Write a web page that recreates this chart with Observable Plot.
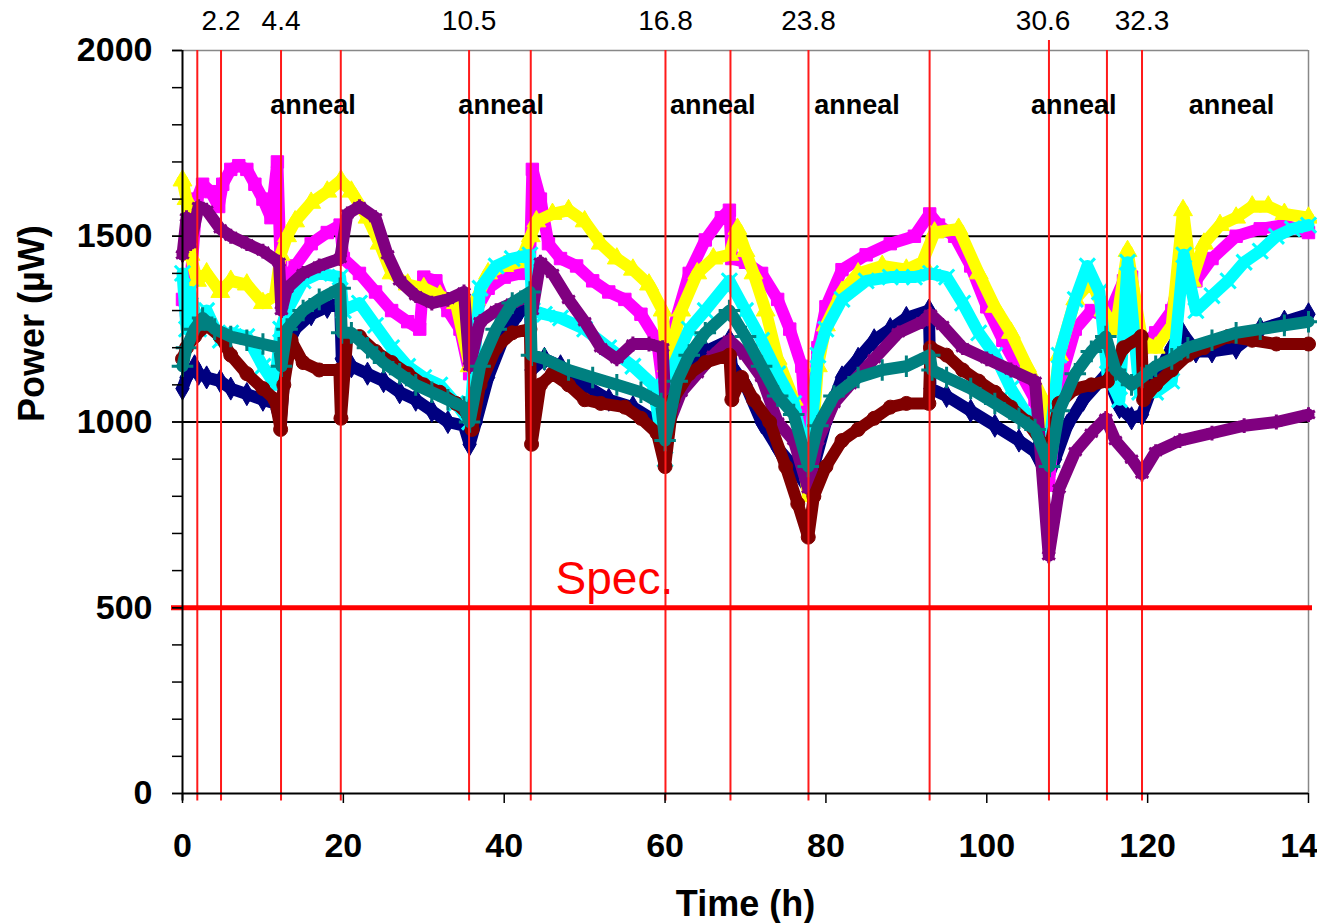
<!DOCTYPE html>
<html><head><meta charset="utf-8">
<script src="https://cdn.jsdelivr.net/npm/d3@7"></script>
<script src="https://cdn.jsdelivr.net/npm/@observablehq/plot@0.6"></script>
<style>
html,body{margin:0;padding:0;background:#fff;}
body{width:1317px;height:923px;overflow:hidden;}
</style>
</head><body><div id="chart"></div>
<script>
// ---- data (hours, power in µW) ----
const navy = [[0,1090],[0.5,1120],[1.5,1150],[2,1130],[3,1120],[4.7,1110],[6,1090],[8,1075],[10,1060],[11.5,1050],[12.2,1000],[13,1200],[14,1250],[16,1290],[18,1310],[19.6,1320],[19.8,1170],[21,1150],[23,1130],[25,1110],[27,1080],[29,1060],[31,1030],[33,1000],[35,990],[35.7,940],[36.5,1000],[38,1120],[40,1230],[42,1300],[43.2,1320],[43.4,1140],[45,1170],[47,1150],[50,1100],[53,1060],[56,1040],[59,1000],[60,920],[61,1060],[63,1150],[65,1190],[68,1220],[68.3,1150],[70,1100],[72,1000],[74,930],[76,880],[77.8,820],[78.5,880],[80,1000],[82,1120],[84,1170],[86,1220],[88,1250],[90,1280],[92.8,1300],[93,1090],[95,1070],[98,1030],[101,990],[104,950],[106,920],[107.6,850],[108.5,900],[110,990],[112,1060],[114.9,1130],[116.5,1040],[118,1010],[119.3,1020],[121,1120],[123,1200],[124.3,1240],[126,1190],[128,1190],[131,1200],[134,1250],[137,1270],[140,1290]];
const magenta = [[0,1330],[0.5,1300],[1,1380],[1.8,1600],[2.5,1640],[3.5,1620],[4.5,1580],[5,1640],[6,1680],[7,1690],[8,1680],[9,1640],[10,1600],[11,1550],[11.8,1700],[12.2,1420],[13,1380],[14,1420],[16,1480],[18,1510],[19.6,1530],[20,1440],[22,1400],[24,1350],[26,1300],[28,1270],[29.5,1250],[30,1390],[31.5,1380],[33,1300],[34.5,1250],[35.7,1130],[36.5,1300],[38,1360],[40,1390],[42,1400],[43.2,1420],[43.5,1680],[44.5,1600],[45.5,1480],[47,1440],[49,1420],[51,1380],[53,1350],[55,1330],[57,1290],[59,1220],[60,1050],[61,1250],[63,1400],[65,1490],[67,1550],[68,1570],[68.3,1440],[70,1430],[72,1400],[74,1330],[75.5,1250],[77,1150],[77.8,900],[79,1200],[80,1310],[82,1410],[85,1450],[88,1480],[91,1500],[92.9,1560],[94,1530],[96,1500],[98,1420],[100,1310],[102,1220],[104,1140],[106,1060],[107.7,830],[109,1100],[111,1250],[113,1300],[115,1280],[117,1380],[118,1390],[119.3,1200],[121,1240],[123,1300],[124.3,1420],[126,1380],[128,1440],[131,1500],[134,1520],[137,1530],[140,1510]];
const yellow = [[0,1650],[0.5,1600],[1,1450],[1.8,1380],[3,1400],[4.7,1350],[6,1380],[8,1370],[10,1320],[11.5,1340],[12.2,1450],[13,1500],[14,1540],[16,1590],[18,1620],[19.7,1650],[21,1620],[23,1550],[24.5,1480],[26,1400],[28,1370],[30,1360],[32,1340],[34,1320],[35.7,1150],[36.5,1330],[38,1400],[40,1420],[42,1430],[43.3,1500],[44,1540],[46,1560],[48,1570],[50,1540],[52,1480],[54,1440],[56,1410],[58,1370],[59.7,1300],[60.2,1150],[62,1300],[64,1400],[66,1440],[68,1450],[69,1520],[70,1460],[71,1400],[72.5,1300],[74,1170],[76,1060],[77.8,800],[79,1150],[80,1260],[82,1350],[84,1400],[87,1420],[90,1410],[92,1430],[93.5,1510],[96.5,1520],[99,1400],[101,1310],[103,1240],[105,1150],[107,1060],[107.8,960],[109,1180],[111,1330],[113,1380],[114.5,1300],[116,1250],[117.5,1460],[119.3,1220],[121,1200],[123,1260],[124.4,1570],[125.5,1380],[127,1480],[129,1530],[131,1550],[133,1580],[135,1580],[137,1560],[140,1550]];
const cyan = [[0,1400],[0.5,1250],[1,1350],[2,1250],[3,1300],[4.7,1220],[6,1240],[8,1230],[10,1150],[11.5,1100],[12.2,1250],[13,1300],[15,1380],[17,1400],[19.6,1390],[20,1300],[22,1320],[24,1260],[26,1200],[28,1150],[30,1120],[32,1100],[34,1050],[35.7,1000],[37,1360],[39,1420],[41,1440],[43.2,1450],[43.5,1300],[45,1290],[47,1280],[50,1250],[53,1200],[56,1150],[58.5,1100],[60,900],[61,1150],[63,1250],[65,1300],[68,1380],[70,1300],[72,1220],[74,1130],[76,1050],[77.8,880],[79,1180],[80,1250],[82,1330],[85,1380],[88,1390],[91,1390],[93,1400],[95,1390],[97,1320],[99,1240],[101,1180],[103,1090],[105,1020],[107.7,920],[109,1180],[111,1330],[112.5,1420],[114,1350],[115,1130],[116.5,1060],[117.5,1430],[119,1080],[121,1080],[123,1110],[124.5,1450],[126,1300],[128,1340],[130,1380],[132,1430],[134,1460],[136,1500],[138,1520],[140,1530]];
const purple = [[0,1450],[0.5,1550],[1,1480],[2,1580],[3,1570],[4.7,1520],[6,1500],[8,1480],[10,1460],[12,1430],[12.3,1300],[13,1360],[15,1400],[17,1420],[19.6,1440],[20.5,1560],[22,1580],[24,1550],[25.5,1450],[27,1380],[29,1340],[31,1320],[33,1330],[35,1350],[35.7,1150],[37,1270],[39,1300],[41,1320],[43.2,1340],[43.5,1300],[44.5,1430],[46,1400],[48,1330],[50,1270],[52,1200],[54,1170],[56,1210],[58,1210],[59.7,1200],[60.2,980],[62,1080],[64,1130],[66,1180],[68,1220],[70,1180],[72,1120],[74,1000],[76,950],[77.8,820],[79,950],[81,1050],[83,1100],[86,1170],[89,1240],[92,1270],[93,1290],[94.5,1260],[97,1200],[100,1170],[103,1140],[106,1110],[107.7,640],[109,820],[111,920],[113,970],[114.8,1010],[116,950],[118,900],[119.3,860],[121,920],[124,950],[128,970],[132,990],[136,1000],[140,1020]];
const darkred = [[0,1170],[0.5,1200],[1.5,1230],[3,1260],[4.7,1230],[6,1180],[8,1130],[10,1090],[11.5,1060],[12.2,980],[12.6,1100],[13.5,1220],[15,1160],[17,1140],[19.5,1140],[19.7,1010],[20.5,1230],[22,1230],[24,1190],[26,1160],[28,1130],[30,1100],[32,1080],[34,1050],[35.5,1020],[36,980],[37,1100],[39,1200],[41,1240],[43.2,1250],[43.4,940],[44.5,1100],[46,1130],[48,1100],[50,1060],[52,1050],[55,1040],[57,1010],[59,970],[60,880],[61,1060],[63,1130],[65,1160],[68,1180],[68.3,1060],[69.5,1120],[71,1060],[73,1000],[75,880],[76.5,780],[77.8,690],[78.5,800],[80,880],[82,950],[84,980],[86,1010],[88,1040],[90,1050],[92.8,1050],[93,1200],[95,1180],[97,1140],[99,1110],[101,1080],[103,1040],[105,1000],[107.7,920],[109,1050],[111,1090],[113,1100],[115,1110],[117,1200],[119.2,1230],[119.5,1060],[121,1100],[123,1140],[125,1180],[127,1200],[130,1230],[133,1220],[136,1210],[140,1210]];
const teal = [[0,1150],[0.5,1200],[1.5,1250],[2.5,1280],[4,1250],[6,1230],[8,1220],[10,1210],[12,1200],[12.3,1150],[13,1250],[15,1300],[17,1330],[19.6,1360],[19.8,1240],[21,1240],[23,1200],[25,1160],[27,1130],[29,1100],[31,1080],[33,1060],[35,1040],[35.7,1000],[37,1150],[39,1250],[41,1320],[43.2,1350],[43.4,1180],[45,1170],[48,1140],[51,1120],[54,1100],[57,1080],[59.5,1050],[60,950],[61.5,1110],[63,1180],[65,1240],[68,1300],[70,1230],[72,1150],[74,1070],[76,1020],[77.8,880],[79,990],[81,1070],[84,1120],[87,1140],[90,1150],[92.9,1180],[93.2,1140],[95,1120],[98,1090],[101,1050],[104,1010],[106,980],[107.8,880],[109,1030],[111,1130],[113,1190],[114.8,1230],[116,1140],[118,1100],[119.3,1120],[121,1150],[123,1170],[125,1200],[128,1220],[131,1240],[134,1250],[137,1260],[140,1270]];

const eventHours = [1.84, 4.79, 12.25, 19.68, 35.63, 43.3, 60.05, 68.13, 77.83, 92.89, 107.73, 114.94, 119.3];
const doseLabels = ["2.2", "4.4", "10.5", "16.8", "23.8", "30.6", "32.3"];
const doseHours = [4.79, 12.25, 35.63, 60.05, 77.83, 107.0, 119.3];
const annealHours = [10.9, 34.3, 60.6, 78.55, 105.5, 125.1];
const xTicks = [0, 20, 40, 60, 80, 100, 120, 140];
const yTicks = [0, 500, 1000, 1500, 2000];
const yMinor = d3.range(0, 2001, 100);
const gridValues = [1000, 1500];
const specValue = 500;
const specLabelHour = 53.7;

// ---- styles ----
const seriesList = [
  {data: navy, color: "#000080", symbol: "diamond", filled: true},
  {data: magenta, color: "#FF00FF", symbol: "square", filled: true},
  {data: yellow, color: "#FFFF00", symbol: "triangle", filled: true},
  {data: cyan, color: "#00FFFF", symbol: "times", filled: false},
  {data: purple, color: "#800080", symbol: "asterisk", filled: false},
  {data: darkred, color: "#800000", symbol: "circle", filled: true},
  {data: teal, color: "#008080", symbol: "plus", filled: false}
];

const seriesMarks = seriesList.flatMap(s => [
  Plot.line(s.data, {x: d => d[0], y: d => d[1], stroke: s.color, strokeWidth: 12, strokeLinejoin: "round", strokeLinecap: "round"}),
  Plot.dot(s.data, {x: d => d[0], y: d => d[1], symbol: s.symbol, r: 7,
    fill: s.filled ? s.color : "none", stroke: s.color, strokeWidth: s.filled ? 1 : 3})
]);

const FONT = "'Liberation Sans', Arial, sans-serif";

const chart = Plot.plot({
  width: 1317, height: 923,
  marginLeft: 182, marginRight: 9, marginTop: 50, marginBottom: 130,
  x: {domain: [0, 140], axis: null},
  y: {domain: [0, 2000], axis: null},
  style: {fontFamily: FONT, background: "white", color: "black"},
  marks: [
    Plot.ruleY(gridValues, {stroke: "black", strokeWidth: 2}),
    Plot.ruleY([2000], {stroke: "#888", strokeWidth: 1.5}),
    Plot.ruleX([140], {stroke: "#888", strokeWidth: 1.5}),
    ...seriesMarks,
    Plot.ruleX(eventHours, {stroke: "#ff1a1a", strokeWidth: 2, y1: -20, y2: (d, i) => i === 10 ? 2027 : 2000}),
    Plot.ruleY([specValue], {stroke: "red", strokeWidth: 5, insetLeft: -11, insetRight: -4}),
    Plot.text(["Spec."], {x: specLabelHour, y: specValue, text: d => d, fill: "red", fontSize: 46, lineAnchor: "bottom", dy: -14}),
    Plot.text(doseLabels, {x: (d, i) => doseHours[i], frameAnchor: "top", dy: -40, text: d => d, fontSize: 28, fill: "black"}),
    Plot.text(annealHours, {x: d => d, frameAnchor: "top", dy: 44, text: () => "anneal", fontSize: 27, fontWeight: "bold", textAnchor: "start", fill: "black"}),
    Plot.ruleX([0], {stroke: "black", strokeWidth: 2, y1: -20, y2: 2000}),
    Plot.ruleY([0], {stroke: "black", strokeWidth: 2}),
    Plot.axisY(yMinor, {tickSize: 10, tickFormat: () => "", label: null, strokeWidth: 1.5}),
    Plot.axisY(yTicks, {tickSize: 10, tickPadding: 20, tickFormat: d3.format("d"), label: null, fontSize: 34, fontWeight: "bold", strokeWidth: 1.5}),
    Plot.axisX(xTicks, {tickSize: 10, tickPadding: 29, tickFormat: d3.format("d"), label: null, fontSize: 34, fontWeight: "bold", strokeWidth: 1.5}),
    Plot.text(["Time (h)"], {frameAnchor: "bottom", dy: 122, text: d => d, fontSize: 36, fontWeight: "bold"}),
    Plot.text(["Power (\u00b5W)"], {frameAnchor: "left", dx: -150, rotate: -90, text: d => d, fontSize: 36, fontWeight: "bold"})
  ]
});
document.getElementById("chart").appendChild(chart);
</script></body></html>
